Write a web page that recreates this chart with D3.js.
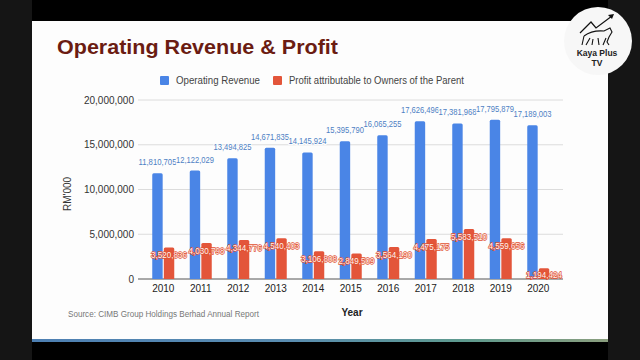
<!DOCTYPE html>
<html><head><meta charset="utf-8">
<script src="https://cdn.jsdelivr.net/npm/d3@7"></script>
<style>html,body{margin:0;padding:0;background:#151515;}svg{display:block;font-family:"Liberation Sans",Arial,sans-serif;}</style>
</head><body><svg id="c" width="640" height="360"></svg>
<script>
const years = ["2010","2011","2012","2013","2014","2015","2016","2017","2018","2019","2020"];
const revenue = [11810705,12122029,13494825,14671835,14145924,15395790,16065255,17626496,17381968,17795879,17189003];
const profit = [3520836,4030798,4344776,4540403,3106808,2849509,3564190,4475175,5583510,4559656,1194424];
const yTicks = [0,5000000,10000000,15000000,20000000];
const seriesNames = ["Operating Revenue","Profit attributable to Owners of the Parent"];

const svg = d3.select("#c");
// backdrop
svg.append("rect").attr("x",0).attr("y",0).attr("width",640).attr("height",360).attr("fill","#151515");
svg.append("rect").attr("x",32).attr("y",0).attr("width",576).attr("height",360).attr("fill","#000");
svg.append("rect").attr("x",32).attr("y",21).attr("width",576).attr("height",318).attr("fill","#fdfdfd");
const grad = svg.append("defs").append("linearGradient").attr("id","bl");
grad.append("stop").attr("offset","0%").attr("stop-color","#4d7fb2");
grad.append("stop").attr("offset","45%").attr("stop-color","#5a8db0");
grad.append("stop").attr("offset","75%").attr("stop-color","#5e9a8e");
grad.append("stop").attr("offset","100%").attr("stop-color","#8a9e7e");
svg.append("rect").attr("x",32).attr("y",339).attr("width",576).attr("height",3).attr("fill","url(#bl)");

// title
svg.append("text").attr("x",57).attr("y",54).attr("fill","#6b1c12").attr("font-weight","bold")
  .attr("font-size",21).attr("textLength",281).attr("lengthAdjust","spacingAndGlyphs").text("Operating Revenue & Profit");

// legend
const colors = ["#4a85e6","#e3553a"];
const leg = [{x:160,tx:176,tw:84},{x:273,tx:289,tw:175}];
leg.forEach((l,i)=>{
  svg.append("rect").attr("x",l.x).attr("y",76).attr("width",9).attr("height",9).attr("rx",1).attr("fill",colors[i]);
  svg.append("text").attr("x",l.tx).attr("y",84).attr("font-size",10.5).attr("fill","#444")
    .attr("textLength",l.tw).attr("lengthAdjust","spacingAndGlyphs").text(seriesNames[i]);
});

const y = d3.scaleLinear().domain([0,20000000]).range([279,100]);
const x = d3.scaleBand().domain(years).range([144.5,557]).padding(0);
const x1 = d3.scaleBand().domain([0,1]).range([-11,11]).paddingInner(0.1);

// grid
svg.append("g").selectAll("line").data(yTicks).join("line")
  .attr("x1",138).attr("x2",563).attr("y1",d=>y(d)).attr("y2",d=>y(d))
  .attr("stroke",d=>d===0?"#555":"#dcdcdc").attr("stroke-width",1);
// y labels
const fmt = d3.format(",");
svg.append("g").selectAll("text").data(yTicks).join("text")
  .attr("x",134).attr("y",d=>y(d)+3.5).attr("text-anchor","end").attr("font-size",10).attr("fill","#333")
  .text(d=>fmt(d));
svg.append("text").attr("transform","translate(71,194) rotate(-90)").attr("text-anchor","middle")
  .attr("font-size",10).attr("fill","#333").text("RM'000");

// bars
const data = years.map((yr,i)=>({yr, v:[revenue[i],profit[i]]}));
const g = svg.append("g");
[0,1].forEach(s=>{
  g.selectAll(".b"+s).data(data).join("path").attr("class","b"+s)
   .attr("fill",colors[s])
   .attr("d",d=>{
     const x0 = x(d.yr)+x.bandwidth()/2+x1(s), w=x1.bandwidth(), t=y(d.v[s]), b=y(0), r=1.5;
     return `M${x0},${b}V${t+r}Q${x0},${t} ${x0+r},${t}H${x0+w-r}Q${x0+w},${t} ${x0+w},${t+r}V${b}Z`;
   });
});
// labels
svg.append("g").selectAll("text").data(data).join("text")
  .attr("x",d=>x(d.yr)+x.bandwidth()/2+x1(0)+x1.bandwidth()/2)
  .attr("y",d=>y(d.v[0])-8).attr("text-anchor","middle").attr("font-size",9).attr("fill","#4d7fc4")
  .attr("textLength",38).attr("lengthAdjust","spacingAndGlyphs")
  .attr("stroke","#fdfdfd").attr("stroke-width",2).attr("paint-order","stroke")
  .text(d=>fmt(d.v[0]));
svg.append("g").selectAll("text").data(data).join("text")
  .attr("x",d=>x(d.yr)+x.bandwidth()/2+x1(1)+x1.bandwidth()/2)
  .attr("y",d=>Math.min(y(d.v[1])+11,278)).attr("text-anchor","middle").attr("font-size",9.5)
  .attr("textLength",36).attr("lengthAdjust","spacingAndGlyphs")
  .attr("fill","#fff3ef").attr("stroke","#e0502f").attr("stroke-width",1.4).attr("paint-order","stroke")
  .text(d=>fmt(d.v[1]));

// x labels
svg.append("g").selectAll("text").data(years).join("text")
  .attr("x",d=>x(d)+x.bandwidth()/2).attr("y",292).attr("text-anchor","middle").attr("font-size",10).attr("fill","#222")
  .text(d=>d);
svg.append("text").attr("x",352).attr("y",316).attr("text-anchor","middle").attr("font-size",10)
  .attr("font-weight","bold").attr("fill","#222").text("Year");
svg.append("text").attr("x",68).attr("y",317).attr("font-size",8.5).attr("fill","#777")
  .attr("textLength",191).attr("lengthAdjust","spacingAndGlyphs").text("Source: CIMB Group Holdings Berhad Annual Report");

// logo
const lg = svg.append("g");
lg.append("circle").attr("cx",598).attr("cy",41).attr("r",34).attr("fill","#f7f7f7");
lg.append("path").attr("fill","none").attr("stroke","#111").attr("stroke-width",1.2)
  .attr("d","M580,33 L591,22 L596,28 L612,16");
lg.append("path").attr("fill","#111").attr("d","M614,14 L608,15 L612,19 Z");
lg.append("path").attr("fill","none").attr("stroke","#111").attr("stroke-width",1.1)
  .attr("d","M584,36 Q592,30 604,31 L610,28 L612,32 L609,37 L607,42 L609,45 M606,38 L603,45 M590,38 L586,45 M593,39 L592,45 M584,36 L582,45 M598,38 L599,45");
lg.append("text").attr("x",597).attr("y",56).attr("text-anchor","middle").attr("font-size",8.5)
  .attr("font-weight","bold").attr("fill","#222").text("Kaya Plus");
lg.append("text").attr("x",597).attr("y",66).attr("text-anchor","middle").attr("font-size",8.5)
  .attr("font-weight","bold").attr("fill","#222").text("TV");
</script></body></html>
